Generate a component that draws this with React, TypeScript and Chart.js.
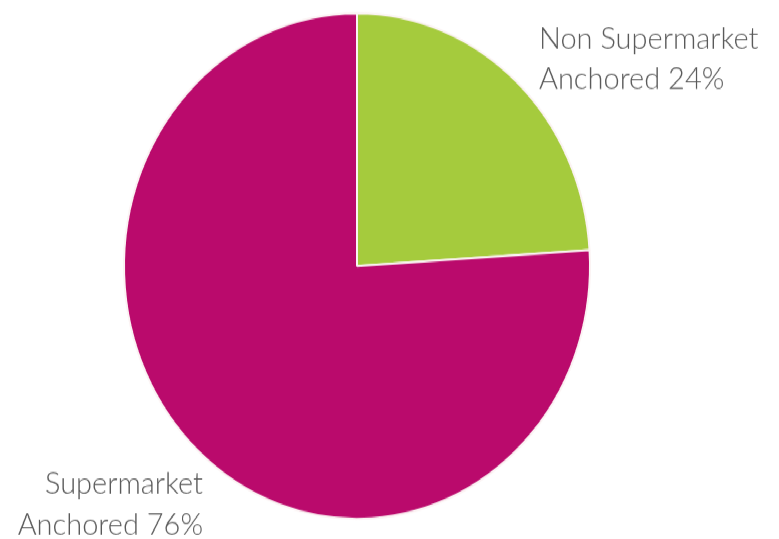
import React, { useEffect, useRef } from "react";
import { Chart, registerables } from "chart.js";

Chart.register(...registerables);

const categories = ["Non Supermarket Anchored", "Supermarket Anchored"];
const shares = [24, 76];
const sliceColors = ["#A5CB3D", "#BA0A6C"];
const labelLines = [
  ["Non Supermarket", "Anchored 24%"],
  ["Supermarket", "Anchored 76%"],
];

const W = 779;
const H = 539;
const K = 1.085; // vertical stretch of the original picture
const IH = Math.round(H / K);

export default function App() {
  const ref = useRef<HTMLCanvasElement | null>(null);

  useEffect(() => {
    if (!ref.current) return;
    const labelPlugin = {
      id: "sliceLabels",
      afterDraw(chart: any) {
        const ctx = chart.ctx;
        ctx.save();
        ctx.scale(1, 1 / K);
        ctx.fillStyle = "#5a5a5a";
        ctx.font = "300 29px Lato";
        ctx.textBaseline = "alphabetic";
        ctx.textAlign = "left";
        ctx.fillText(labelLines[0][0], 539, 49);
        ctx.fillText(labelLines[0][1], 539, 89);
        ctx.textAlign = "right";
        ctx.fillText(labelLines[1][0], 203, 494);
        ctx.fillText(labelLines[1][1], 203, 535);
        ctx.restore();
      },
    };
    const chart = new Chart(ref.current, {
      type: "pie",
      data: {
        labels: categories,
        datasets: [
          {
            data: shares,
            backgroundColor: sliceColors,
            borderColor: "#FBF3F3",
            borderWidth: 2,
          },
        ],
      },
      options: {
        responsive: false,
        animation: false,
        layout: { padding: { left: 100, right: 165, top: 11.2, bottom: 17.8 } },
        plugins: { legend: { display: false }, tooltip: { enabled: false } },
      },
      plugins: [labelPlugin],
    });
    return () => chart.destroy();
  }, []);

  return (
    <div
      style={{
        position: "absolute",
        left: 0,
        top: 0,
        width: W,
        height: IH,
        transform: `scaleY(${K})`,
        transformOrigin: "0 0",
        background: "#fff",
      }}
    >
      <canvas ref={ref} width={W} height={IH} style={{ width: W, height: IH }} />
    </div>
  );
}
